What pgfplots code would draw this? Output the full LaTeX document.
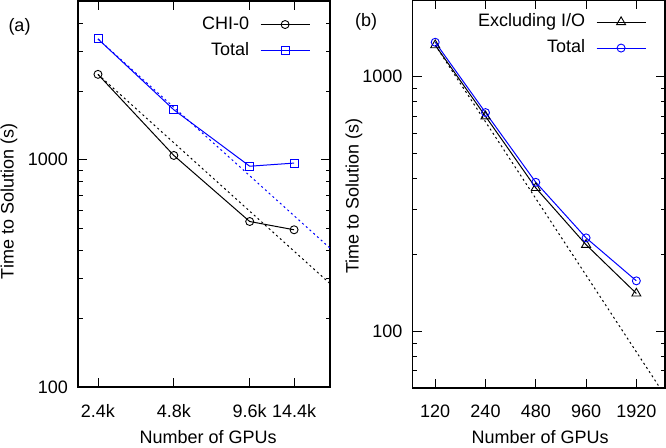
\documentclass[border=0pt]{standalone}
\usepackage{fontspec}
\setmainfont{Liberation Sans}
\usepackage{pgfplots}
\pgfplotsset{compat=1.18}
\pgfplotsset{
  every axis/.append style={
    scale only axis,
    tick align=inside,
    major tick length=9bp, minor tick length=4.5bp,
    every tick/.style={line width=0.9bp, black},
    axis line style={line width=1.3bp},
    font=\fontsize{18bp}{21bp}\selectfont,
  },
  every axis plot/.append style={line width=1bp, mark size=4bp, mark options={solid, line width=0.9bp}},
}
\begin{document}
\begin{tikzpicture}[x=1bp,y=1bp]
\useasboundingbox (0,0) rectangle (666,448);
\begin{axis}[xmode=log, ymode=log,
  at={(78bp,61bp)}, anchor=south west,
  width=252bp, height=386bp,
  xmin=2000, xmax=20000, ymin=100, ymax=5000,
  xtick={2400,4800,9600,14400}, xticklabels={2.4k,4.8k,9.6k,14.4k},
  ytick={100,1000}, yticklabels={100,1000},
  minor xtick={},
  minor ytick={200,300,400,500,600,700,800,900,2000,3000,4000},
  xticklabel style={inner sep=0pt, anchor=north, yshift=-17bp},
  yticklabel style={inner sep=0pt, anchor=east, xshift=-10bp},
  xlabel={Number of GPUs}, ylabel={Time to Solution (s)},
  xlabel style={at={(axis description cs:0.516,-0.146)}, anchor=base},
  ylabel style={at={(axis description cs:-0.274,0.4806)}, anchor=center},
  legend plot pos=right,
  legend cell align=right,
  legend style={draw=none, fill=none, anchor=north east,
    at={(axis description cs:0.921,0.961)},
    inner sep=0pt, outer sep=0pt,
    nodes={inner sep=0pt, text height=13bp, text depth=4bp},
    row sep=9bp, column sep=11bp},
  legend image code/.code={\draw[#1, mark repeat=2, mark phase=2] plot coordinates {(0bp,0bp) (24.5bp,0bp) (49bp,0bp)};},
]
\addplot[black, mark=o] coordinates {(2400,2377) (4800,1045) (9600,535) (14400,492)};
\addlegendentry{CHI-0}
\addplot[blue, mark=square] coordinates {(2400,3404) (4800,1660) (9600,937) (14400,967)};
\addlegendentry{Total}
\addplot[black, dash pattern=on 2bp off 3bp, forget plot] coordinates {(2400,2377) (20000,285.2)};
\addplot[blue, dash pattern=on 2bp off 3bp, forget plot] coordinates {(2400,3404) (20000,408.5)};
\end{axis}
\begin{axis}[xmode=log, ymode=log,
  at={(412.7bp,60bp)}, anchor=south west,
  width=252.3bp, height=388bp,
  xmin=88, xmax=2850, ymin=60, ymax=2000,
  xtick={120,240,480,960,1920}, xticklabels={120,240,480,960,1920},
  ytick={100,1000}, yticklabels={100,1000},
  minor xtick={},
  minor ytick={60,70,80,90,200,300,400,500,600,700,800,900,2000},
  xticklabel style={inner sep=0pt, anchor=north, yshift=-17bp},
  yticklabel style={inner sep=0pt, anchor=east, xshift=-10bp},
  xlabel={Number of GPUs}, ylabel={Time to Solution (s)},
  xlabel style={at={(axis description cs:0.505,-0.143)}, anchor=base},
  ylabel style={at={(axis description cs:-0.233,0.495)}, anchor=center},
  legend plot pos=right,
  legend cell align=right,
  legend style={draw=none, fill=none, anchor=north east,
    at={(axis description cs:0.925,0.965)},
    inner sep=0pt, outer sep=0pt,
    nodes={inner sep=0pt, text height=13bp, text depth=4bp},
    row sep=9bp, column sep=11bp},
  legend image code/.code={\draw[#1, mark repeat=2, mark phase=2] plot coordinates {(0bp,0bp) (24.5bp,0bp) (49bp,0bp)};},
]
\addplot[black, mark=triangle, mark size=5.2bp] coordinates {(120,1330) (240,699) (480,366) (960,219) (1920,141)};
\addlegendentry{Excluding I/O}
\addplot[blue, mark=o] coordinates {(120,1365) (240,723) (480,385) (960,233) (1920,158)};
\addlegendentry{Total}
\addplot[black, dash pattern=on 2bp off 3bp, forget plot] coordinates {(120,1330) (3000,53.2)};
\end{axis}
\node[font=\fontsize{18bp}{21bp}\selectfont] at (19.5,421.5) {(a)};
\node[font=\fontsize{18bp}{21bp}\selectfont] at (366,426.5) {(b)};
\end{tikzpicture}
\end{document}
